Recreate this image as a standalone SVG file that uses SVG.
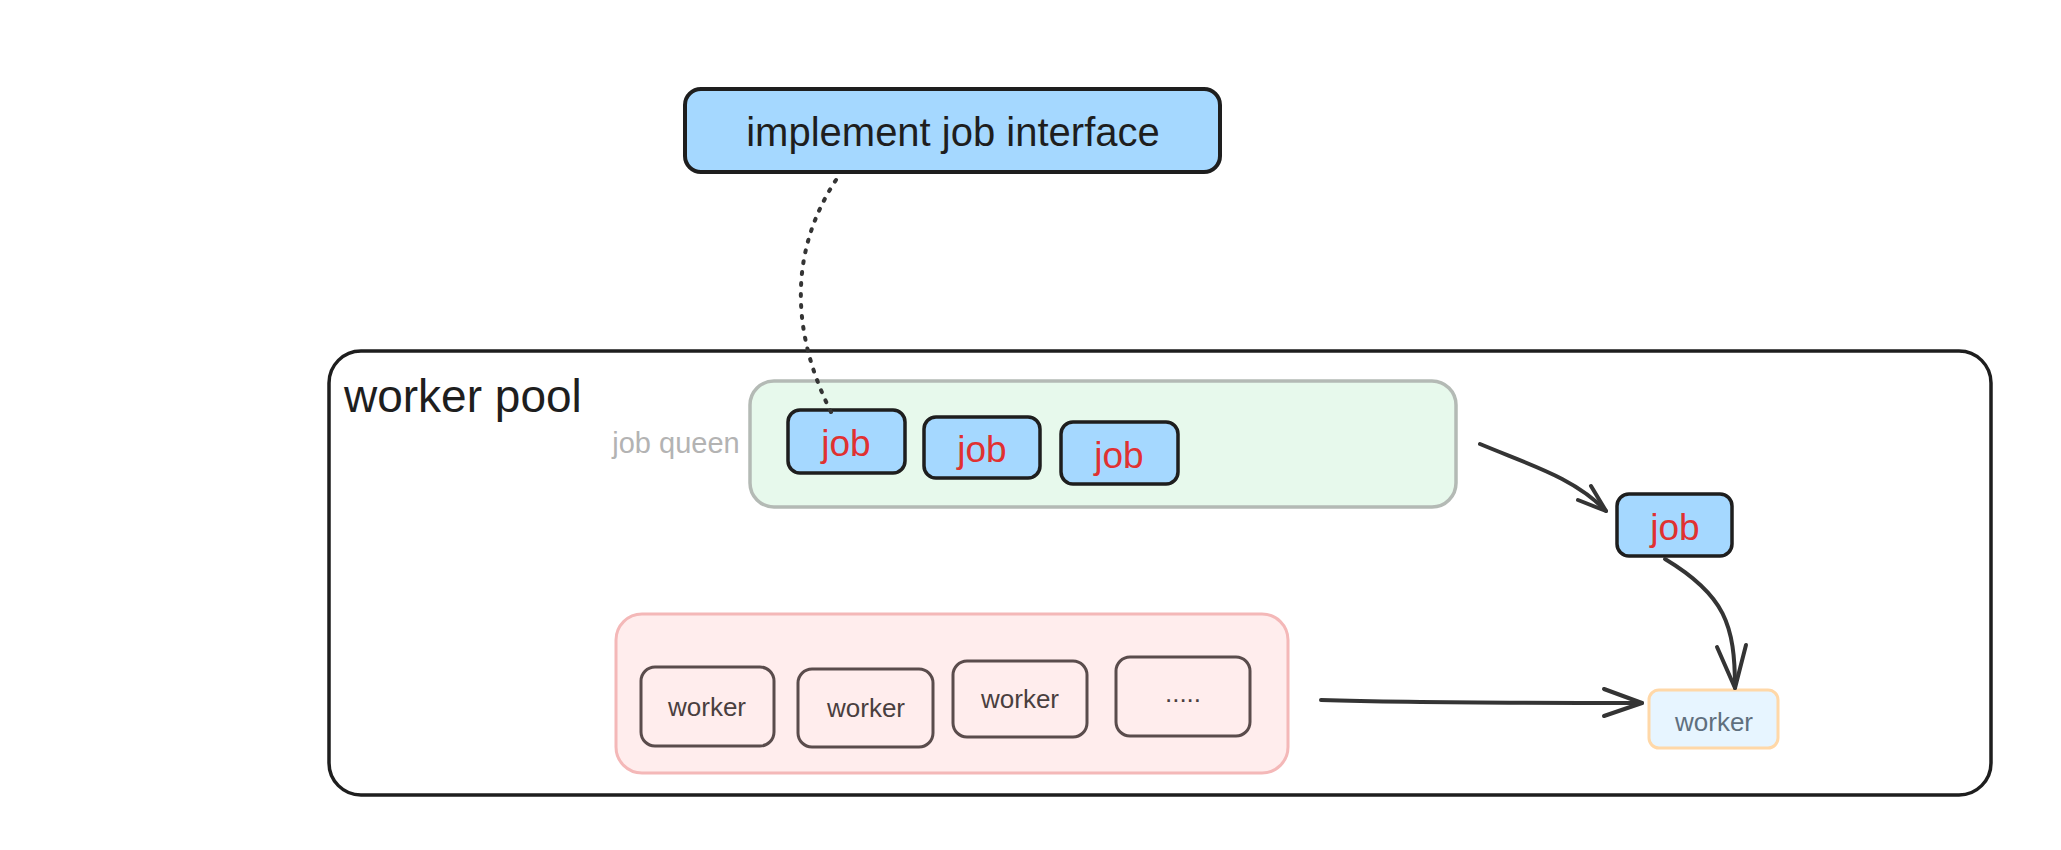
<svg xmlns="http://www.w3.org/2000/svg" width="2061" height="850" viewBox="0 0 2061 850">
<style>
text{font-family:"Liberation Sans","Noto Sans",Arial,sans-serif;text-anchor:middle;dominant-baseline:central}
.job rect{fill:#a5d8ff;stroke:#1e1e1e;stroke-width:3.5}
.job text{fill:#e03131;font-size:37px}
.wk rect{fill:#ffeded;stroke:#5a4c4c;stroke-width:3}
.wk text{fill:#4a3f3f;font-size:26px}
.conn path{fill:none;stroke:#343434;stroke-width:4;stroke-linecap:round;stroke-linejoin:round}
</style>
<rect width="2061" height="850" fill="#ffffff"/>
<g id="pool">
<rect x="329" y="351" width="1662" height="444" rx="32" fill="none" stroke="#1e1e1e" stroke-width="3.5"/>
<text x="344" y="396" font-size="46" fill="#1e1e1e" style="text-anchor:start">worker pool</text>
</g>
<g id="interface">
<rect x="685" y="89" width="535" height="83" rx="16" fill="#a5d8ff" stroke="#1e1e1e" stroke-width="4"/>
<text x="953" y="132" font-size="40" fill="#1e1e1e">implement job interface</text>
</g>
<g id="queue">
<rect x="750" y="381" width="706" height="126" rx="24" fill="#e7f9ec" stroke="#b4bab5" stroke-width="3.5"/>
<text x="676" y="443" font-size="29" fill="#b3b3b3">job queen</text>
</g>
<g id="job1" class="job"><rect x="788" y="410" width="117" height="63" rx="12"/><text x="846" y="443">job</text></g>
<g id="job2" class="job"><rect x="924" y="417" width="116" height="61" rx="12"/><text x="982" y="449">job</text></g>
<g id="job3" class="job"><rect x="1061" y="422" width="117" height="62" rx="12"/><text x="1119" y="455">job</text></g>
<g id="job4" class="job"><rect x="1617" y="494" width="115" height="62" rx="12"/><text x="1675" y="527">job</text></g>
<g id="workers">
<rect x="616" y="614" width="672" height="159" rx="26" fill="#ffeded" stroke="#f4b8b8" stroke-width="3"/>
</g>
<g id="worker1" class="wk"><rect x="641" y="667" width="133" height="79" rx="14"/><text x="707" y="707">worker</text></g>
<g id="worker2" class="wk"><rect x="798" y="669" width="135" height="78" rx="14"/><text x="866" y="708">worker</text></g>
<g id="worker3" class="wk"><rect x="953" y="661" width="134" height="76" rx="14"/><text x="1020" y="699">worker</text></g>
<g id="worker4" class="wk"><rect x="1116" y="657" width="134" height="79" rx="14"/><text x="1183" y="693">.....</text></g>
<g id="worker5">
<rect x="1649" y="690" width="129" height="58" rx="10" fill="#e7f5ff" stroke="#ffd8a8" stroke-width="3"/>
<text x="1714" y="722" font-size="26" fill="#5f6f7e">worker</text>
</g>
<g id="connectors" class="conn">
<path d="M836 180 C 790 250, 790 330, 831 412" stroke="#1e1e1e" stroke-width="3" stroke-dasharray="2 9"/>
<path d="M1480 444 C 1530 465, 1575 478, 1606 511"/>
<path d="M1591 486 L1606 511 L1578 500"/>
<path d="M1665 559 C 1725 595, 1735 625, 1735 688" stroke="#1e1e1e"/>
<path d="M1717 647 L1735 688 L1746 645" stroke="#1e1e1e" stroke-width="3"/>
<path d="M1321 700 C 1420 703, 1540 703, 1642 703"/>
<path d="M1604 689 L1642 703 L1604 716"/>
</g>
</svg>
